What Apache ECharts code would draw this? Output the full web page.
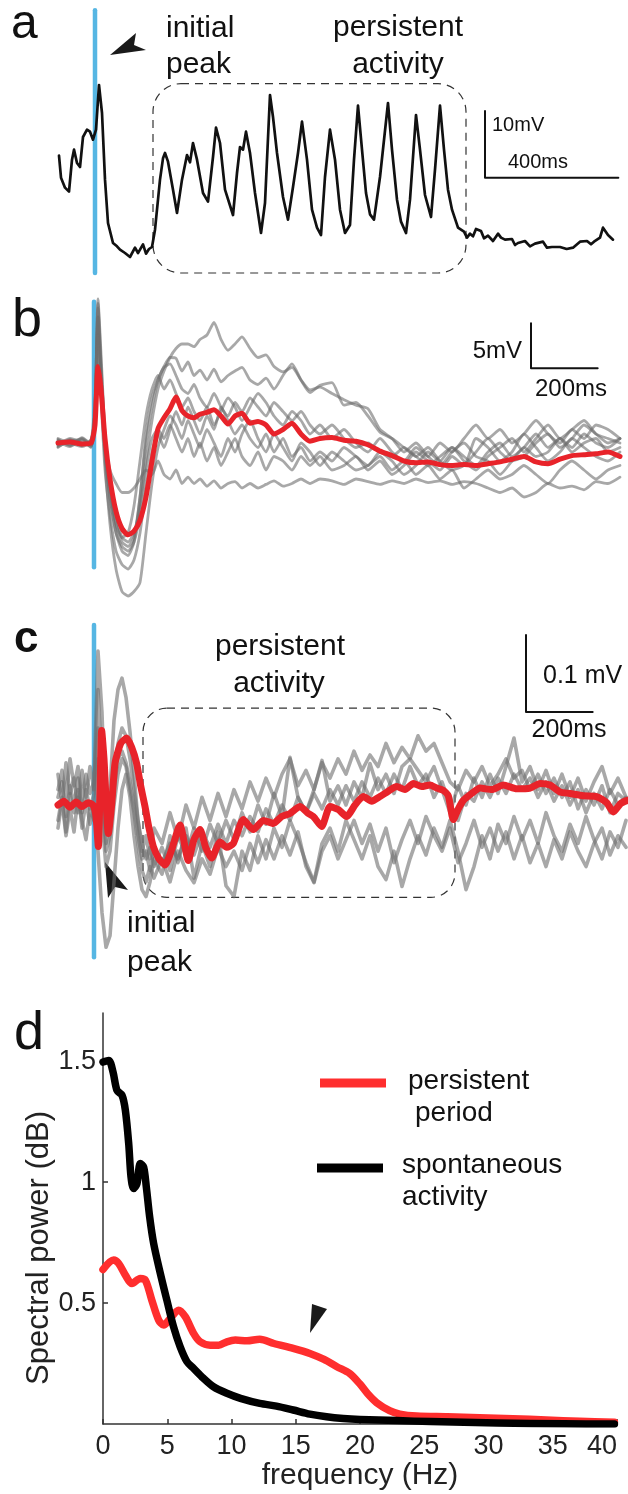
<!DOCTYPE html>
<html>
<head>
<meta charset="utf-8">
<script src="https://cdn.jsdelivr.net/npm/echarts@6/dist/echarts.min.js"></script>
<style>
html, body { margin: 0; padding: 0; background: #fff; }
#main { width: 628px; height: 1494px; }
</style>
</head>
<body>
<div id="main"></div>
<script>
// ---- panel a : single intracellular trace (ms, mV relative) ----
var traceA = [[-108,15.2],[-102,11.9],[-90,10.4],[-78,9.8],[-69,14.6],[-63,16.1],[-54,14.1],[-45,13.5],[-36,18.0],[-24,19.1],[-15,18.8],[-6,17.6],[3,19.1],[12,25.8],[21,21.6],[30,11.6],[39,5.1],[54,2.1],[66,1.6],[75,1.1],[90,0.6],[105,0],[120,1.4],[129,0.6],[135,1.1],[144,1.9],[153,0.5],[162,1.2],[171,1.5],[180,4.1],[195,11.6],[204,14.8],[210,15.6],[219,14.3],[234,10.1],[246,6.6],[261,11.6],[276,15.3],[285,14.2],[294,17.1],[306,14.6],[324,9.6],[339,8.3],[354,15.0],[363,19.4],[375,17.1],[390,10.1],[414,6.3],[426,12.6],[435,16.5],[444,16.1],[453,18.8],[465,15.6],[480,9.6],[498,3.6],[510,8.1],[525,24.3],[534,21.0],[546,15.6],[564,9.0],[579,5.6],[594,10.5],[609,15.6],[621,20.3],[636,14.6],[651,7.1],[666,4.4],[678,3.3],[690,12.0],[705,19.1],[720,14.6],[735,7.1],[750,3.6],[765,4.8],[777,14.6],[789,22.7],[801,16.1],[813,9.6],[825,6.4],[837,5.6],[855,12.0],[879,23.1],[891,16.1],[906,8.6],[918,5.3],[933,3.6],[945,8.6],[963,21.3],[975,16.1],[990,9.3],[1008,6.0],[1020,13.1],[1035,22.7],[1047,16.1],[1059,10.1],[1071,7.1],[1089,4.4],[1107,3.8],[1116,2.9],[1125,3.5],[1134,3.1],[1143,4.2],[1158,3.9],[1167,2.8],[1179,3.2],[1194,2.4],[1209,3.5],[1218,2.9],[1230,2.6],[1251,2.7],[1260,1.8],[1269,2.1],[1290,2.4],[1305,1.6],[1320,2.0],[1344,2.3],[1356,1.4],[1371,1.5],[1395,1.5],[1415,1.2],[1434,1.4],[1455,2.3],[1476,2.4],[1488,1.9],[1497,2.3],[1515,2.9],[1524,4.4],[1539,3.3],[1554,2.6]];
var stimA = [[0,-2.4],[0,37]];
var scaleBarA = [[1170,21.9],[1170,11.9],[1570,11.9]];
var boxA = [174, 1113, -2.4, 26];

// ---- panel b : trials (gray) and mean (red) ----
var tB = [-108,-72,-36,-9,3,12,21,33,48,66,84,102,120,138,156,174,192,210,228,246,264,282,300,318,339,360,381,402,423,444,468,492,516,540,567,594,621,648,678,714,750,786,822,858,894,930,966,1002,1038,1074,1110,1146,1182,1218,1254,1290,1326,1362,1398,1434,1470,1506,1542,1578];
var redB = [0,0.1,-0.1,0,2.0,8.5,6.0,0.5,-4.0,-7.6,-9.5,-10.2,-9.8,-8.6,-6.0,-2.0,1.6,2.8,3.8,5.1,3.6,3.0,2.8,3.2,3.4,3.7,3.0,2.1,3.0,3.3,2.2,2.4,2.0,1.0,1.5,2.2,1.0,0.2,0.5,0.6,0.3,0.2,-0.2,-0.9,-1.4,-2.0,-2.2,-2.1,-2.4,-2.5,-2.4,-2.5,-2.3,-2.1,-1.8,-1.5,-2.1,-2.3,-1.8,-1.4,-1.3,-1.2,-1.0,-1.5];
var grayB1 = [0.4,-0.3,0.5,-0.2,4,15.5,9,1,-4,-8,-10.5,-11,-10,-7,-2,2.5,6,8,9.5,10.5,11,11,10.7,11.5,12,13.4,11.5,10.3,11,11.8,10.5,9.5,9.8,8.5,7.9,8.4,7,5.9,6.2,5.5,4.8,4.2,3.8,1.5,0.5,-1,0,-1.5,-2.5,-1,0,-1.5,-2,-3.5,-2,-0.5,-1.5,-1,0.5,-0.5,1,0,-0.5,0.5];
var grayB2 = [-0.3,0.4,-0.2,0.3,5,14,8,0,-5,-9,-11,-11.5,-10.5,-6,0,4,7,8.5,9.5,9.4,8,9,7.5,8.1,7,8.2,6.8,7.5,8,8.4,7,6.5,7.2,6,7.5,8.8,7,5.6,6.4,6.7,4.2,4.5,3,1.2,0.5,-0.5,-1.5,-0.5,-2,-3,-2.5,-1,0.5,-1,-2,-1.5,0,1,-0.5,0.5,2,1,0,0.5];
var grayB3 = [0.2,-0.4,0.3,-0.5,3,13,7,-1,-6,-10,-12,-12.5,-11,-6,1,5,7,8.4,8.8,7.5,6,5.5,6.5,5,4,5.5,4,3,4.5,3.5,5,4,3,4.5,3.5,2.5,3.5,2,1,2,0.5,-0.5,0,-1,-1.5,-0.5,-1.5,-2.5,-1.5,-0.5,-2,-3,-1.5,-0.5,0.5,-1,0.5,2,0.5,1.5,2.5,1,0.5,0];
var grayB4 = [-0.5,0.3,-0.3,0.4,2,12,6,0,-3,-4.5,-5.5,-5.5,-5,-4,-3,-3.5,-2,-3.5,-4,-3,-4.5,-3.8,-4.5,-4,-4.8,-4.2,-5,-4.5,-4.3,-5,-4.5,-5,-4.6,-4.2,-4.8,-4.5,-4,-4.5,-4,-4.2,-4.6,-4,-4.3,-4.6,-4.2,-4.5,-4,-4.4,-4.2,-4.6,-4.3,-4.5,-5,-5.5,-5,-6,-5.5,-4.5,-5,-4.8,-5.2,-4.3,-4.5,-3.8];
var grayB5 = [0.3,-0.2,0.6,-0.1,2,14,6,-2,-9,-14,-16.5,-17,-16.5,-15.5,-10,-4.5,-0.5,1.5,3,2,0.5,2.5,1,-0.5,1.5,0,-1.5,0.5,-1,1,2.5,0.5,-1,1,-0.5,-2,0,-1,-2.5,-1,-2,-3,-2.5,-1.5,-3,-2,-3.5,-2.5,-4,-3,-5,-4,-3,-4,-3.5,-2.5,-3.5,-4.5,-3,-2,-3,-4,-3,-2.5];
var grayB6 = [-0.2,0.5,0,-0.4,3,15,8,-1,-6,-10,-11.5,-12,-11,-8,-3,0.5,1.5,0.5,2,0.5,-1,0.5,-1.5,0,-2,-0.5,-2.5,-1,0.5,-1.5,-2.5,-1,-3,-1.5,-2,-3,-1.5,-2.5,-1.5,-3,-2.5,-1.5,-3,-2,-3.5,-2.5,-1,-2,-3,-1.5,-2.5,0.5,-0.5,-2,-1,1,-0.5,-2,-1,0.5,-0.5,-1.5,-2,-1];
var grayB7 = [0.5,0,-0.4,0.2,4,16,10,1,-5,-9,-10.5,-10,-7,-2,3,6,7.5,6,7,5.5,4,5,3.5,2.5,4,2,3.5,5,4,2.5,4,5.5,4.5,3,2,3.5,2.5,1,2,0.5,1.5,0,-1,0.5,-1,-2,-0.5,-1.5,0,-1,0.5,2,0.5,1.5,0,1,2.5,1,0,1.5,0.5,2,1.5,0.5];
var grayB8 = [-0.4,0.2,0.4,-0.3,2,12,5,-3,-8,-12,-13.5,-14,-13,-10,-5,-1,1,-0.5,1.5,3.5,2,4,2.5,1,3,1.5,4,2.5,1,2,0.5,-0.5,1,-1,0.5,-1.5,-0.5,-2,-1,-2,-0.5,-1.5,-2.5,-1,-2,-3.5,-2.5,-1,-2,-0.5,-1.5,-2.5,-1,0,-1.5,-0.5,1,-0.5,0.5,-1,0,0.5,-1,-0.5];
var stimB = [[0,-13.8],[0,15.7]];
var scaleBarB = [[1311,13.3],[1311,8.3],[1511,8.3]];

// ---- panel c : field potential (uV) trials and mean ----
var tC = [-108,-96,-84,-72,-60,-48,-36,-24,-12,0,12,24,36,48,60,72,84,96,108,120,132,144,156,168,180,204,228,252,276,300,324,348,372,396,420,444,468,492,516,540,564,588,612,636,660,684,708,732,756,780,804,828,852,876,900,924,948,972,996,1020,1044,1068,1092,1116,1140,1164,1188,1212,1236,1260,1284,1308,1332,1356,1380,1404,1428,1452,1476,1500,1524,1548,1572,1596];
var grayC1 = [20,45,10,60,25,50,5,40,15,30,200,120,-30,20,110,150,165,140,95,40,-20,-60,-40,-70,-30,-50,-10,-45,0,-30,10,-20,15,-15,20,-5,30,5,35,10,40,60,25,45,20,55,35,60,40,70,45,65,50,80,55,75,60,90,70,80,55,30,20,45,30,50,25,40,60,35,45,20,40,15,35,10,30,-5,20,0,25,-10,15,5];
var grayC2 = [-20,10,-35,15,-10,20,-30,5,-25,0,-60,-140,-185,-170,-100,-30,20,40,10,-40,-80,-110,-119,-100,-70,-90,-40,-75,-30,-95,-50,-80,-35,-105,-119,-60,-85,-40,-70,-30,-55,-20,-45,-75,-100,-50,-30,-60,-20,-45,-70,-40,-80,-97,-60,-106,-70,-40,-65,-30,-55,-20,-60,-110,-80,-40,-70,-25,-50,-15,-45,-20,-50,-10,-40,-60,-25,-50,-15,-45,-70,-35,-55,-20];
var grayC3 = [40,0,55,15,35,-10,45,10,50,20,150,40,-50,-20,40,80,100,90,60,20,-20,-50,-70,-55,-80,-55,-85,-40,-65,-30,-60,-25,-50,-20,-45,-10,-35,0,-25,15,-15,62,10,-10,20,58,5,25,0,30,10,54,20,40,15,50,60,45,30,50,20,-10,25,0,35,10,40,15,50,87,30,50,20,45,15,40,10,35,5,30,50,15,35,10];
var grayC4 = [-30,5,-40,-5,-35,10,-20,-45,-5,-20,60,-20,-80,-60,0,40,60,50,20,-10,-50,-85,-100,-80,-95,-70,-100,-60,-85,-101,-70,-90,-55,-80,-60,-85,-50,-75,-45,-70,-40,-65,-35,-80,-101,-60,-40,-70,-45,-20,-50,-25,-60,-30,-75,-45,-20,-50,-15,-40,-60,-30,-75,-50,-20,-55,-30,-60,-35,-70,-40,-75,-50,-80,-45,-70,-35,-60,-80,-50,-30,-65,-40,-55];
var grayC5 = [10,30,-15,25,0,35,-10,20,-5,15,100,10,-60,-40,20,60,70,55,30,0,-40,-70,-60,-85,-60,-75,-50,-70,-40,-65,-35,-55,-25,-50,-20,-40,-15,-35,-5,-25,0,-20,10,-10,15,-5,20,0,25,5,30,10,35,15,40,20,50,25,40,10,30,0,-20,15,5,30,10,35,15,40,20,35,10,30,5,25,0,20,-10,15,-5,20,0,10];
var redC = [[-108,0],[-90,5],[-72,-3],[-54,4],[-36,-2],[-18,3],[-3,0],[6,-15],[13,-54],[18,20],[23,97],[30,60],[43,-37],[53,0],[63,54],[80,80],[98,87],[113,75],[128,54],[140,25],[153,-2],[165,-30],[178,-54],[195,-70],[213,-78],[233,-58],[258,-26],[283,-72],[300,-45],[318,-32],[335,-55],[353,-69],[378,-48],[398,-55],[418,-50],[448,-19],[478,-32],[508,-20],[538,-24],[563,-15],[588,-11],[618,-2],[640,-10],[658,-15],[683,-28],[708,-2],[733,-6],[758,-15],[783,0],[808,11],[833,5],[858,11],[883,18],[908,24],[933,20],[958,28],[983,24],[1008,26],[1028,22],[1048,19],[1063,12],[1078,-19],[1093,-5],[1108,6],[1133,15],[1158,22],[1193,20],[1228,26],[1268,21],[1308,22],[1338,28],[1368,26],[1398,17],[1428,15],[1468,12],[1508,11],[1538,3],[1558,-9],[1580,2],[1600,6]];
var stimC = [[0,-198],[0,234]];
var scaleBarC = [[1296,221],[1296,121],[1496,121]];
var boxC = [147, 1083, -120, 126];

// ---- panel d : spectral power ----
var persistentPower = [[0,0.639],[0.83,0.678],[1.22,0.664],[1.74,0.616],[2.25,0.581],[2.9,0.602],[3.3,0.595],[3.8,0.512],[4.33,0.430],[4.72,0.409],[5.23,0.437],[5.88,0.471],[6.4,0.444],[7.05,0.375],[7.56,0.340],[8.34,0.326],[9.0,0.326],[9.64,0.340],[10.3,0.347],[11.2,0.344],[12.2,0.351],[13.3,0.333],[14.8,0.313],[16.1,0.292],[17.2,0.267],[18.2,0.237],[19.2,0.209],[20.0,0.165],[20.6,0.125],[21.3,0.088],[22.3,0.055],[23.1,0.041],[24.4,0.033],[26.8,0.030],[29.3,0.026],[31.9,0.022],[34.5,0.017],[37.1,0.011],[39.8,0.007]];
var spontaneousPower = [[0,1.497],[0.44,1.504],[0.78,1.456],[1.09,1.380],[1.48,1.360],[1.74,1.298],[2.0,1.160],[2.18,1.022],[2.38,0.974],[2.64,0.994],[2.9,1.077],[3.16,1.063],[3.37,0.981],[3.63,0.857],[3.94,0.747],[4.46,0.623],[4.97,0.512],[5.49,0.402],[6.0,0.320],[6.53,0.258],[7.05,0.230],[7.82,0.189],[8.6,0.154],[9.64,0.127],[10.7,0.106],[12.2,0.085],[13.5,0.074],[14.8,0.058],[16.1,0.041],[17.4,0.030],[18.7,0.023],[20.0,0.019],[22.9,0.014],[25.5,0.010],[30.7,0.004],[35.9,0.001],[39.8,0]];
var freqTicks = [0, 5, 10, 15, 20, 25, 30, 35, 40];
var powerTicks = [0.5, 1, 1.5];

var FONT = '"Liberation Sans", Arial, sans-serif';
var BLUE = '#56b6e3';
var RED = '#e8232a';
var GRAY = 'rgba(110,110,110,0.6)';

function zip(t, v) {
    var out = [];
    var n = Math.min(t.length, v.length);
    for (var i = 0; i < n; i++) out.push([t[i], v[i]]);
    return out;
}

function line(g, data, color, width, smooth) {
    return {
        type: 'line', xAxisIndex: g, yAxisIndex: g, data: data,
        showSymbol: false, symbol: 'none', smooth: smooth || false, silent: true,
        lineStyle: { color: color, width: width, join: 'round', cap: 'round' }
    };
}

function hiddenX(min, max, g) {
    return { type: 'value', gridIndex: g, min: min, max: max, show: false };
}
function hiddenY(min, max, g) {
    return { type: 'value', gridIndex: g, min: min, max: max, show: false };
}

var series = [];
// a
series.push(line(0, stimA, BLUE, 4.5));
series.push(line(0, traceA, '#111', 2.7));
series.push(line(0, scaleBarA, '#111', 2));
// b
series.push(line(1, stimB, BLUE, 4.5));
[grayB1, grayB2, grayB3, grayB4, grayB5, grayB6, grayB7, grayB8].forEach(function (v) {
    series.push(line(1, zip(tB, v), GRAY, 2.8, 0.2));
});
series.push(line(1, zip(tB, redB), RED, 5, 0.2));
series.push(line(1, scaleBarB, '#111', 2));
// c
series.push(line(2, stimC, BLUE, 4.5));
[grayC1, grayC2, grayC3, grayC4, grayC5].forEach(function (v) {
    series.push(line(2, zip(tC, v), GRAY, 3.6));
});
series.push(line(2, redC, RED, 7, 0.2));
series.push(line(2, scaleBarC, '#111', 2));
// d
series.push(line(3, persistentPower, '#ff2e2e', 7.5, 0.3));
series.push(line(3, spontaneousPower, '#000', 7.5, 0.3));

var axisStyle = { color: '#333', width: 1.5 };

var option = {
    animation: false,
    backgroundColor: '#fff',
    textStyle: { fontFamily: FONT },
    grid: [
        { left: 0, top: 7, width: 628, height: 270 },
        { left: 0, top: 290, width: 628, height: 315 },
        { left: 0, top: 620, width: 628, height: 345 },
        { left: 103, top: 1013, width: 514, height: 411 }
    ],
    xAxis: [
        hiddenX(-285, 1599, 0),
        hiddenX(-282, 1602, 1),
        hiddenX(-282, 1602, 2),
        {
            type: 'value', gridIndex: 3, min: 0, max: 40, interval: 5,
            axisLine: { show: true, onZero: false, lineStyle: axisStyle },
            axisTick: { show: true, inside: true, length: 5, lineStyle: axisStyle },
            axisLabel: { fontSize: 27, color: '#222', margin: 9, fontFamily: FONT, alignMaxLabel: 'right', customValues: freqTicks },
            splitLine: { show: false },
            name: 'frequency (Hz)', nameLocation: 'middle', nameGap: 37,
            nameTextStyle: { fontSize: 30, color: '#222', fontFamily: FONT }
        }
    ],
    yAxis: [
        hiddenY(-3, 37.5, 0),
        hiddenY(-18, 17, 1),
        hiddenY(-208, 240.5, 2),
        {
            type: 'value', gridIndex: 3, min: 0, max: 1.7, interval: 0.5,
            axisLine: { show: true, onZero: false, lineStyle: axisStyle },
            axisTick: { show: true, inside: true, length: 5, lineStyle: axisStyle, customValues: powerTicks },
            axisLabel: { fontSize: 27, color: '#222', margin: 7, fontFamily: FONT, customValues: powerTicks },
            splitLine: { show: false }
        }
    ],
    series: series
};

var myChart = echarts.init(document.getElementById('main'));
myChart.setOption(option);

function txt(s, x, y, size, align, weight) {
    return {
        type: 'text', x: x, y: y, silent: true,
        style: { text: s, font: (weight || 'normal') + ' ' + size + 'px ' + FONT, fill: '#111', align: align || 'left', verticalAlign: 'middle' }
    };
}
function boxRect(g, b, r) {
    var p1 = myChart.convertToPixel({ gridIndex: g }, [b[0], b[3]]);
    var p2 = myChart.convertToPixel({ gridIndex: g }, [b[1], b[2]]);
    return {
        type: 'rect', silent: true,
        shape: { x: p1[0], y: p1[1], width: p2[0] - p1[0], height: p2[1] - p1[1], r: r },
        style: { fill: 'none', stroke: '#333', lineWidth: 1.2, lineDash: [8, 6] }
    };
}
function poly(points) {
    return { type: 'polygon', silent: true, shape: { points: points }, style: { fill: '#1a1a1a' } };
}
function seg(x1, y1, x2, y2, color) {
    return { type: 'line', silent: true, shape: { x1: x1, y1: y1, x2: x2, y2: y2 }, style: { stroke: color, lineWidth: 9 } };
}

var graphics = [
    // panel letters
    txt('a', 11, 25, 48),
    txt('b', 12, 321, 54),
    txt('c', 14, 640, 44, 'left', 'bold'),
    txt('d', 14, 1034, 54),
    // a
    boxRect(0, boxA, 28),
    txt('initial', 166, 29, 30),
    txt('peak', 166, 65, 30),
    txt('persistent', 398, 28, 30, 'center'),
    txt('activity', 398, 65, 30, 'center'),
    txt('10mV', 492, 125, 20),
    txt('400ms', 508, 162, 20),
    poly([[110, 55], [136, 33], [134, 45], [146, 50]]),
    // b
    txt('5mV', 522, 351, 24, 'right'),
    txt('200ms', 571, 389, 24, 'center'),
    // c
    boxRect(2, boxC, 24),
    txt('persistent', 280, 647, 30, 'center'),
    txt('activity', 279, 684, 30, 'center'),
    txt('0.1 mV', 543, 676, 25),
    txt('200ms', 569, 730, 25, 'center'),
    txt('initial', 127, 924, 30),
    txt('peak', 127, 963, 30),
    poly([[105, 862], [108, 898], [115, 887], [128, 890]]),
    // d
    {
        type: 'text', x: 39, y: 1248, rotation: Math.PI / 2, silent: true,
        style: { text: 'Spectral power (dB)', font: '31px ' + FONT, fill: '#222', align: 'center', verticalAlign: 'middle' }
    },
    seg(320, 1083, 386, 1083, '#ff2e2e'),
    seg(317, 1168, 383, 1168, '#000'),
    txt('persistent', 408, 1081, 28),
    txt('period', 415, 1113, 28),
    txt('spontaneous', 402, 1165, 28),
    txt('activity', 402, 1197, 28),
    poly([[312, 1304], [327, 1309], [310, 1333]])
];
myChart.setOption({ graphic: graphics });
</script>
</body>
</html>
